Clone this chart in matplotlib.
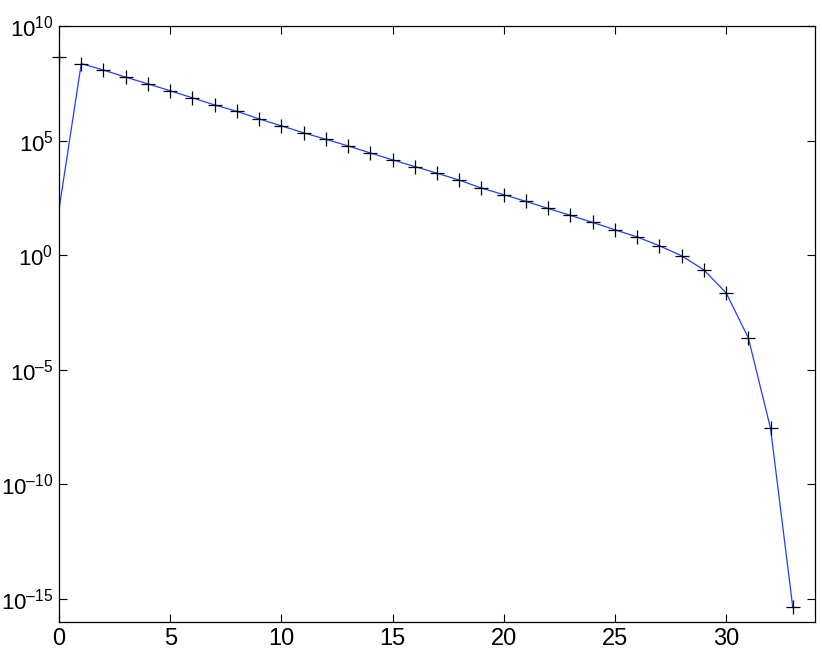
import numpy as np
import matplotlib
matplotlib.use('Agg')
import matplotlib.pyplot as plt

plt.rcParams['font.family'] = ['Liberation Sans', 'DejaVu Sans']
plt.rcParams['mathtext.fontset'] = 'custom'
plt.rcParams['mathtext.rm'] = 'Liberation Sans'
plt.rcParams['mathtext.it'] = 'Liberation Sans'
plt.rcParams['mathtext.bf'] = 'Liberation Sans'

# marker series (black +)
k = np.arange(0, 34)
err = [4.6e8, 2.3e8, 1.2e8, 5.9e7, 3.0e7, 1.5e7, 7.4e6, 3.6e6, 1.9e6, 8.9e5,
       4.4e5, 2.2e5, 1.15e5, 5.9e4, 2.9e4, 1.45e4, 7.4e3, 3.8e3, 1.9e3, 850,
       440, 224, 110, 55, 27, 12.9, 6.3, 2.6, 0.95, 0.23,
       0.023, 2.5e-4, 2.8e-8, 4.4e-16]

# line series (blue), differs only at k = 0
line_vals = [1e2] + err[1:]

xticks = [0, 5, 10, 15, 20, 25, 30]
yexps = [-15, -10, -5, 0, 5, 10]

fig = plt.figure(figsize=(8.22, 6.51), dpi=100)
ax = fig.add_axes([0.0718, 0.0445, 0.9197, 0.9155])

ax.semilogy(k, line_vals, color='#1f3fff', linewidth=0.9)
ax.semilogy(k, err, 'k+', markersize=10, markeredgewidth=0.9, clip_on=False)

ax.set_xlim(0, 34)
ax.set_ylim(1e-16, 1e10)
ax.set_xticks(xticks)
ax.set_xticklabels([str(t) for t in xticks])
ax.set_yticks([10.0 ** e for e in yexps])
ax.set_yticklabels([r'$10^{\text{%s}}$' % str(e).replace('-', '\u2013') for e in yexps])
ax.yaxis.set_minor_locator(matplotlib.ticker.NullLocator())
ax.tick_params(direction='in', length=6, width=0.8,
               top=True, right=True, pad=4)
ax.tick_params(axis='x', labelsize=17)
ax.tick_params(axis='y', labelsize=16, pad=4)
for s in ax.spines.values():
    s.set_linewidth(0.9)

fig.savefig('out.png', dpi=100)
